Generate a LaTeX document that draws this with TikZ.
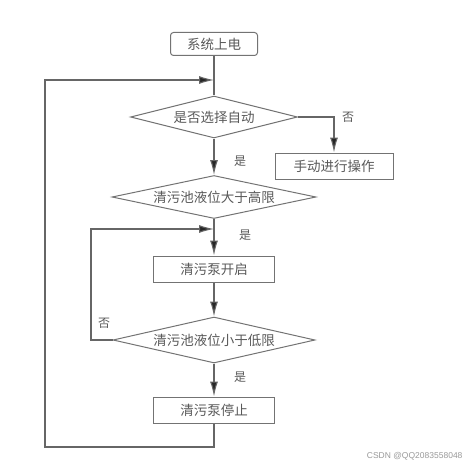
\documentclass[tikz,border=0pt]{standalone}
\usepackage{fontspec}
\usepackage{tikz}
\usetikzlibrary{shapes.geometric,arrows.meta}
\newfontfamily\cjk{Noto Sans CJK SC}
\newfontfamily\wmfont{Liberation Sans}

\tikzset{
    line/.style={draw=black!60, line width=1.1pt},
    arr/.style={line, -{Latex[length=15pt,width=8pt,fill=black!85]}},
    box/.style={draw=black!55, line width=1pt, minimum width=121pt,
        minimum height=26pt, inner sep=0pt, text=black!65,
        font=\cjk\fontsize{13.5}{15}\selectfont},
    cond/.style={diamond, aspect=5, draw=black!55, line width=1pt,
        inner sep=0pt, text=black!65, font=\cjk\fontsize{13.5}{15}\selectfont},
    lbl/.style={text=black!65, font=\cjk\fontsize{12}{14}\selectfont}
}

\begin{document}
\begin{tikzpicture}[x=1pt, y=-1pt]
            \useasboundingbox (0,0) rectangle (470,468);

            \node[box, rounded corners=3pt, minimum width=87pt,
                minimum height=23pt] (start) at (214,44) {系统上电};
            \node[cond, minimum width=167pt, minimum height=42pt]
                (auto) at (214,117) {是否选择自动};
            \node[box, minimum width=118pt] (manual) at (334,166)
                {手动进行操作};
            \node[cond, minimum width=204pt, minimum height=43pt]
                (high) at (214,197) {清污池液位大于高限};
            \node[box] (pumpon) at (214,269) {清污泵开启};
            \node[cond, minimum width=202pt, minimum height=46pt]
                (low) at (214,340) {清污池液位小于低限};
            \node[box] (pumpoff) at (214,410) {清污泵停止};

            \coordinate (join1) at (214,80);
            \coordinate (join2) at (214,229);
            \coordinate (outer) at (45,447);
            \coordinate (inner) at (91,340);

            \draw[line] (start) -- (auto);
            \draw[arr] (auto) -- (high);
            \draw[arr] (auto.east) -| (manual.north);
            \draw[arr] (high) -- (pumpon);
            \draw[arr] (pumpon) -- (low);
            \draw[arr] (low) -- (pumpoff);

            % loops back
            \draw[arr] (pumpoff.south) |- (outer) |- (join1);
            \draw[arr] (low.west) -- (inner) |- (join2);

            \node[lbl] (yes1) at (240,161) {是};
            \node[lbl] (no1) at (348,117) {否};
            \node[lbl] (yes2) at (245,235) {是};
            \node[lbl] (no2) at (104,323) {否};
            \node[lbl] (yes3) at (240,377) {是};

            \node[text=black!40, font=\wmfont\fontsize{8.5}{10}\selectfont,
                anchor=east] (mark) at (466,456) {CSDN @QQ2083558048};

        \end{tikzpicture}
\end{document}
